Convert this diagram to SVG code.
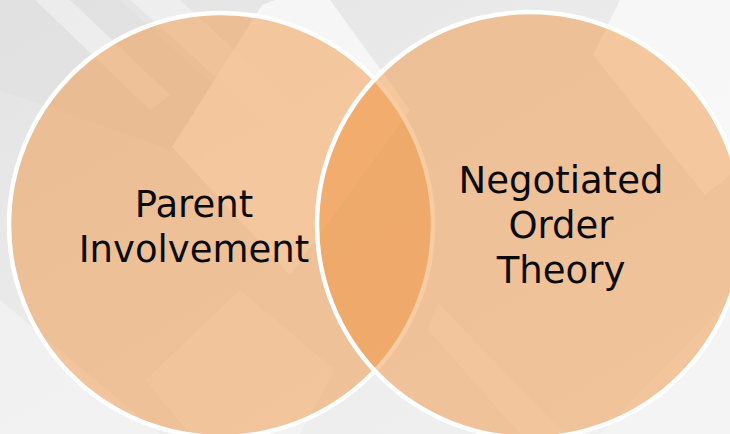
<svg xmlns="http://www.w3.org/2000/svg" width="730" height="434" viewBox="0 0 730 434">
  <defs>
    <linearGradient id="bgGrad" x1="0" y1="0" x2="1" y2="1">
      <stop offset="0" stop-color="#E3E3E3"/>
      <stop offset="0.45" stop-color="#EBEBEB"/>
      <stop offset="1" stop-color="#F1F1F1"/>
    </linearGradient>
    <style>
      .pane { fill: #FBFBFB; fill-opacity: 0.75; }
      .pane-soft { fill: #F8F8F8; fill-opacity: 0.5; }
      .shade { fill: #E0E0E0; fill-opacity: 0.6; }
      .circle { fill: #F0903A; fill-opacity: 0.47; stroke: #FFFFFF; stroke-width: 4.5; }
      .label { font-family: "DejaVu Sans", "Verdana", sans-serif; font-size: 37px; fill: #0A0A0A; text-anchor: middle; }
    </style>
  </defs>

  <!-- backdrop with faint angled panes -->
  <g id="backdrop">
    <rect x="0" y="0" width="730" height="434" fill="url(#bgGrad)"/>
    <polygon class="shade" points="0,0 120,0 240,110 200,160 0,90"/>
    <polygon class="pane-soft" points="35,0 70,0 170,95 150,110"/>
    <polygon class="pane-soft" points="130,0 180,0 300,110 275,130"/>
    <polygon class="pane" points="262,5 172,147 290,275 410,110 330,0 275,0"/>
    <polygon class="pane" points="620,0 593,55 705,195 730,175 730,0"/>
    <polygon class="pane-soft" points="660,0 730,0 730,80"/>
    <polygon class="pane-soft" points="438,303 428,330 520,434 565,434"/>
    <polygon class="pane-soft" points="145,380 240,290 335,370 300,434 190,434"/>
    <polygon class="pane-soft" points="0,300 0,434 160,434"/>
    <polygon class="pane-soft" points="600,434 730,300 730,434"/>
  </g>

  <!-- left set -->
  <g id="node-parent-involvement">
    <circle class="circle" cx="221" cy="225" r="212"/>
    <text class="label" x="194" y="217">Parent</text>
    <text class="label" x="194" y="262">Involvement</text>
  </g>

  <!-- right set, drawn over the left one -->
  <g id="node-negotiated-order-theory">
    <circle class="circle" cx="530" cy="225" r="213"/>
    <text class="label" x="561" y="193">Negotiated</text>
    <text class="label" x="561" y="238">Order</text>
    <text class="label" x="561" y="283">Theory</text>
  </g>
</svg>
